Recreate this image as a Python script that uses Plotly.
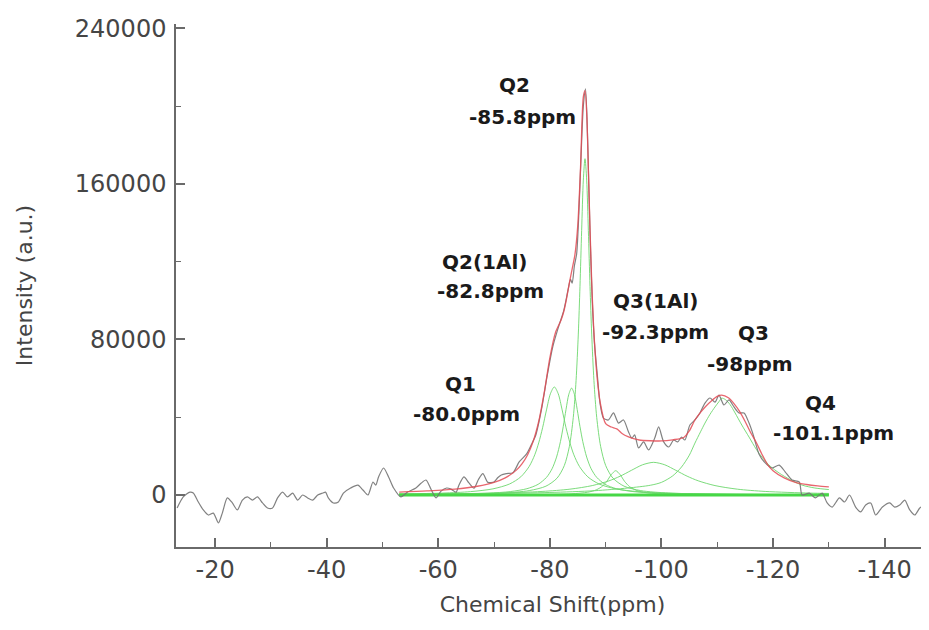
import plotly.graph_objects as go

# ---------------- data ----------------
gray_x = [-13.2, -14.3, -15.5, -16.1, -17.0, -17.9, -18.8, -19.7, -20.6, -21.3,
          -22.2, -23.1, -24.0, -24.9, -25.8, -26.7, -27.6, -28.5, -29.4, -30.3,
          -31.2, -32.1, -33.0, -33.9, -34.8, -35.7, -36.6, -37.5, -38.4, -39.3,
          -39.8, -40.3, -41.2, -42.1, -43.0, -44.3, -45.6, -46.5, -47.4, -48.3,
          -48.8, -49.3, -50.2, -51.1, -52.0, -53.3, -54.5, -56.0, -56.9, -57.8,
          -58.7, -59.6, -60.5, -61.5, -62.3, -63.2, -63.7, -64.6, -65.5, -66.4,
          -67.2, -68.0, -68.9, -70.0, -70.7, -71.3, -72.2, -73.4, -74.5, -75.8,
          -76.7, -77.5, -78.5, -79.5, -80.5, -81.5, -82.5, -83.3, -83.7, -84.0,
          -84.4, -84.8, -85.2, -85.6, -86.0, -86.4, -86.8, -87.2, -87.6, -88.0,
          -88.5, -89.0, -89.6, -90.5, -91.4, -92.3, -93.2, -94.1, -94.7, -95.2,
          -95.9, -96.8, -97.7, -98.8, -99.5, -100.4, -101.3, -102.2, -102.9, -103.6,
          -104.2, -105.1, -106.0, -106.9, -107.8, -108.7, -109.6, -110.3, -111.2, -112.1,
          -113.0, -113.9, -114.8, -115.7, -116.5, -117.5, -118.6, -119.8, -121.1, -122.2,
          -123.4, -124.7, -125.2, -126.5, -127.6, -128.8, -129.7, -130.6, -131.9, -132.8,
          -133.7, -134.8, -135.7, -136.6, -137.5, -138.4, -139.6, -140.9, -141.8, -142.7,
          -143.6, -144.5, -145.4, -146.3, -147.2, -148.0]
gray_y = [-6700, -1000, 1500, 1000, -3600, -7700, -10300, -9300, -14400, -9300,
          -1500, -4100, -7700, -2600, -1000, -2600, -1000, -4100, -6700, -6700,
          -1500, 1500, -1000, 1000, -2600, 0, -1500, -2600, 0, 1000,
          1500, -1500, -4100, -3600, 1000, 3600, 5100, 2600, 0, 6700,
          5100, 9300, 13900, 9300, 3600, -1000, 1500, 3600, 6000, 7700,
          3000, -1500, 2000, 3600, 3000, 1500, 5000, 9300, 6200, 3500,
          8000, 11000, 6500, 6700, 9000, 10300, 11000, 11500, 17000, 21000,
          26000, 31000, 44000, 61000, 76000, 86000, 95000, 106000, 111000, 109000,
          118000, 124000, 145000, 175000, 200000, 209000, 180000, 135000, 100000, 78000,
          62000, 47000, 39600, 38600, 42200, 37000, 38600, 32400, 29300, 30900,
          24200, 27300, 23200, 29300, 35000, 27300, 24700, 28300, 27300, 29800,
          28300, 36000, 38600, 42200, 47300, 49900, 47800, 51400, 46300, 48900,
          45300, 42200, 42200, 37000, 30500, 21000, 16500, 13900, 15400, 11800,
          7700, 6700, 0, 1000, -1500, 1000, -4100, -6200, -1500, -3600,
          0, -6200, -8700, -5100, -4100, -10300, -6200, -4100, -6200, -5100,
          -2600, -7700, -10300, -6700, -5100, -6000]

fit_x = [-53, -58, -63, -67, -70, -72, -74, -75, -76, -77,
         -78, -79, -80, -81, -82, -82.5, -83, -83.5, -84, -84.5,
         -85, -85.5, -86, -86.3, -86.6, -87, -87.5, -88, -88.5, -89,
         -90, -91, -92, -93, -94, -95, -96, -98, -100, -102,
         -104, -105, -106, -107, -108, -109, -110, -110.8, -112, -113,
         -114, -115, -116, -117, -118, -119, -120, -122, -124, -126,
         -128, -130]
fit_y = [1500, 2100, 3000, 4500, 6500, 8800, 12800, 16000, 20600, 27500,
         37800, 52800, 70600, 83500, 89900, 94400, 101200, 109100, 116300, 123800,
         138600, 168400, 204800, 208000, 196700, 156900, 109700, 78600, 59600, 48000,
         36700, 35000, 34000, 31500, 30000, 29000, 28300, 27900, 27800, 28400,
         29600, 33000, 38600, 42500, 45800, 48500, 50700, 51400, 50000, 47000,
         43000, 37800, 32000, 27000, 21000, 15800, 12500, 8800, 6500, 5400,
         4700, 4200]

q1_x = [-53, -60.8, -65.8, -69.8, -72.8, -74.8, -76.3, -77.3, -78.0, -78.7, -79.4, -80.1, -80.8,
        -81.5, -82.2, -82.9, -83.6, -84.3, -85.3, -86.8, -88.8, -91.8, -95.8, -100.8, -108.8, -118.8, -130]
q1_y = [520, 995, 1740, 3160, 5690, 9360, 14700, 20700, 26800, 34600, 43800, 52100, 55600,
        52100, 43800, 34600, 26800, 20700, 14700, 9360, 5690, 3160, 1740, 995, 512, 279, 167]

q2al_x = [-53, -62.9, -68.9, -72.9, -75.9, -77.9, -79.4, -80.4, -81.2, -81.9, -82.4, -82.9, -83.4, -83.9,
          -84.4, -84.9, -85.4, -85.9, -86.6, -87.4, -88.4, -89.9, -91.9, -94.9, -98.9, -104.9, -113.9, -130]
q2al_y = [229, 495, 960, 1760, 3240, 5500, 9070, 13500, 19500, 27500, 35200, 44000, 51800, 55000,
          51800, 44000, 35200, 27500, 19500, 13500, 9070, 5500, 3240, 1760, 960, 495, 243, 103]

q2_x = [-53, -63.3, -71.3, -76.3, -79.3, -81.3, -82.6, -83.5, -84.2, -84.7, -85.1, -85.4, -85.7, -86.0, -86.3,
        -86.6, -86.9, -87.2, -87.5, -87.9, -88.4, -89.1, -90.0, -91.3, -93.3, -96.3, -101.3, -109.3, -130]
q2_y = [206, 431, 1010, 2260, 4550, 8690, 15200, 25000, 39900, 58900, 82800, 107300, 136000, 162000, 173000,
        162000, 136000, 107300, 82800, 58900, 39900, 25000, 15200, 8690, 4550, 2260, 1010, 431, 120]

q3al_x = [-53, -71.8, -78.8, -83.8, -86.8, -88.3, -89.3, -90.2, -91.0, -91.8,
          -92.6, -93.4, -94.3, -95.3, -96.8, -99.8, -104.8, -111.8, -130]
q3al_y = [27, 100, 235, 600, 1430, 2620, 4270, 6980, 10440, 12500,
          10440, 6980, 4270, 2620, 1430, 600, 235, 100, 28]

broad_x = [-53, -70.6, -78.6, -83.6, -87.6, -90.6, -92.6, -94.6, -96.6, -98.6,
           -100.6, -102.6, -104.6, -106.6, -109.6, -113.6, -118.6, -126.6, -130]
broad_y = [390, 990, 1830, 3000, 4840, 7290, 9680, 12660, 15530, 16800,
           15530, 12660, 9680, 7290, 4840, 3000, 1830, 990, 800]

q3_x = [-53, -70, -80, -88, -94, -98, -100, -102, -103.6, -105,
        -106, -107, -107.8, -108.7, -109.6, -110.3, -110.8, -111.5, -112.3, -113.2,
        -114.4, -115.7, -117, -118, -119.5, -121.1, -123, -125.2, -127.5, -130]
q3_y = [400, 800, 1300, 2200, 3600, 5000, 6500, 9800, 14400, 20500,
        26700, 32500, 37000, 41500, 45300, 48000, 49800, 49000, 46500, 42200,
        36000, 29800, 23500, 19500, 14800, 11300, 8000, 5100, 3600, 2800]

base_x = [-53, -130]
base_y = [0, 0]

x_ticks = [-20, -40, -60, -80, -100, -120, -140]
y_ticks = [0, 80000, 160000, 240000]

label_texts = ["Q2", "-85.8ppm", "Q2(1Al)", "-82.8ppm", "Q1", "-80.0ppm",
               "Q3(1Al)", "-92.3ppm", "Q3", "-98ppm", "Q4", "-101.1ppm"]

# ---------------- layout (page body has an 8px margin) ----------------
OFF = 8
W, H = 929 - OFF, 630 - OFF
PL, PR, PT, PB = 176, 929, 24, 547          # plot-area edges in window pixels
label_px = [(514, 85), (522, 117), (484, 262), (490, 291), (460, 384), (466, 414),
            (655, 301), (655, 332), (753, 333), (750, 364), (820, 403), (833, 433)]

fig = go.Figure()

green = "rgba(110,215,110,0.9)"
for xs, ys in [(q1_x, q1_y), (q2al_x, q2al_y), (q2_x, q2_y), (q3al_x, q3al_y),
               (broad_x, broad_y), (q3_x, q3_y)]:
    fig.add_trace(go.Scatter(x=xs, y=ys, mode="lines",
                             line=dict(color=green, width=1, shape="spline", smoothing=0.8),
                             showlegend=False, hoverinfo="skip"))

fig.add_trace(go.Scatter(x=base_x, y=base_y, mode="lines",
                         line=dict(color="rgb(70,215,70)", width=3),
                         showlegend=False, hoverinfo="skip"))

fig.add_trace(go.Scatter(x=gray_x, y=gray_y, mode="lines",
                         line=dict(color="rgba(115,115,115,0.9)", width=1.2, shape="spline", smoothing=0.7),
                         showlegend=False, hoverinfo="skip"))

fig.add_trace(go.Scatter(x=fit_x, y=fit_y, mode="lines",
                         line=dict(color="rgba(228,75,85,0.85)", width=1.3, shape="spline", smoothing=0.8),
                         showlegend=False, hoverinfo="skip"))

annotations = []
for txt, (px, py) in zip(label_texts, label_px):
    annotations.append(dict(
        text=txt, xref="paper", yref="paper",
        x=(px - PL) / (PR - PL), y=1 - (py - PT) / (PB - PT),
        xanchor="center", yanchor="middle", showarrow=False,
        font=dict(family="DejaVu Sans", size=20, color="#1a1a1a", weight="bold")))

axis_col = "#6a6a6a"
fig.update_layout(
    width=W, height=H,
    margin=dict(l=PL - OFF, r=929 - PR, t=PT - OFF, b=630 - PB),
    paper_bgcolor="white", plot_bgcolor="white",
    font=dict(family="DejaVu Sans", color="#444444"),
    annotations=annotations,
    xaxis=dict(
        range=[-13.0, -147.95], showgrid=False, zeroline=False, automargin=False,
        showline=True, linecolor=axis_col, linewidth=1.5,
        tickmode="array", tickvals=x_ticks, ticktext=[str(v) for v in x_ticks],
        ticks="inside", ticklen=9, tickwidth=1.5, tickcolor=axis_col,
        tickfont=dict(size=24, color="#454545"), ticklabelstandoff=0,
        minor=dict(tickmode="linear", tick0=0, dtick=10, ticks="inside", ticklen=5,
                   tickwidth=1.2, tickcolor=axis_col),
        title=dict(text="Chemical Shift(ppm)", font=dict(size=22, color="#444444"), standoff=14),
    ),
    yaxis=dict(
        range=[-26750, 242300], showgrid=False, zeroline=False, automargin=False,
        showline=True, linecolor=axis_col, linewidth=1.5,
        tickmode="array", tickvals=y_ticks, ticktext=[str(v) for v in y_ticks],
        ticks="inside", ticklen=9, tickwidth=1.5, tickcolor=axis_col,
        tickfont=dict(size=24, color="#454545"), ticklabelstandoff=3,
        minor=dict(tickmode="linear", tick0=0, dtick=40000, ticks="inside", ticklen=5,
                   tickwidth=1.2, tickcolor=axis_col),
        title=dict(text="Intensity (a.u.)", font=dict(size=22, color="#444444"), standoff=36),
    ),
)

fig.write_html("out.html")
